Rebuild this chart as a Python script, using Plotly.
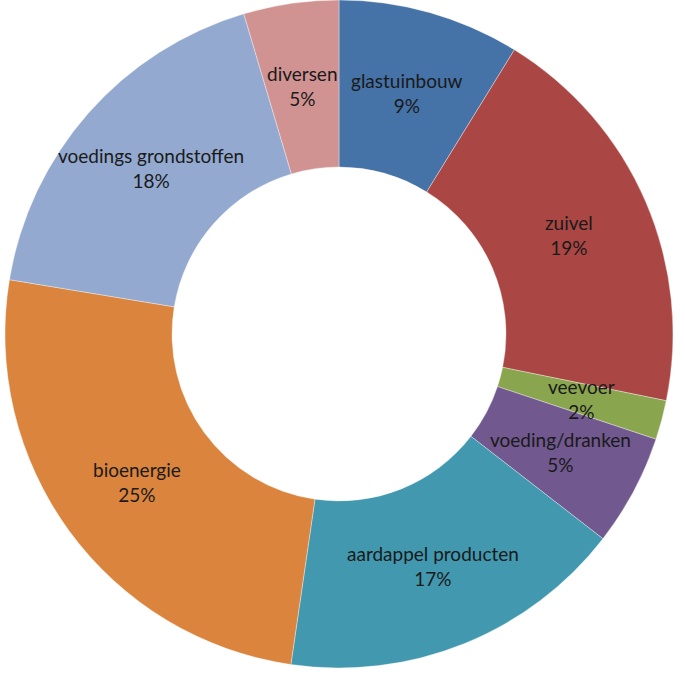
import math
import plotly.graph_objects as go

labels = ["glastuinbouw", "zuivel", "veevoer", "voeding/dranken",
          "aardappel producten", "bioenergie", "voedings grondstoffen", "diversen"]
values = [8.8, 19.4, 1.9, 5.4, 16.8, 25.3, 17.8, 4.6]
colors = ["#4572A7", "#AA4643", "#89A54E", "#71588F",
          "#4198AF", "#DB843D", "#93A9CF", "#D19392"]

W, H = 685, 687
cx, cy, R = 339, 334, 334
HOLE = 0.5

fig = go.Figure(go.Pie(
    labels=labels,
    values=values,
    sort=False,
    direction="clockwise",
    rotation=0,
    hole=HOLE,
    marker=dict(colors=colors, line=dict(color="rgba(255,255,255,0.6)", width=0.6)),
    textinfo="none",
    domain=dict(x=[(cx - R) / W, (cx + R) / W],
                y=[(H - cy - R) / H, (H - cy + R) / H]),
    showlegend=False,
    hoverinfo="label+percent",
))

# labels at the middle of the ring, at each slice's mid-angle
total = sum(values)
cum = 0.0
r_mid = R * (1 + HOLE) / 2
for lab, v in zip(labels, values):
    mid = (cum + v / 2) / total * 2 * math.pi
    cum += v
    px = cx + r_mid * math.sin(mid)
    py = cy - r_mid * math.cos(mid)
    pct = round(v / total * 100)
    fig.add_annotation(
        x=px / W, y=(H - py) / H, xref="paper", yref="paper",
        text=f"{lab}<br>{pct}%", showarrow=False,
        font=dict(family="Lato", size=19, color="#1a1a1a"),
        xanchor="center", yanchor="middle", align="center",
    )

fig.update_layout(
    width=W, height=H,
    margin=dict(l=0, r=0, t=0, b=0),
    paper_bgcolor="white",
)

fig.write_html("out.html")
